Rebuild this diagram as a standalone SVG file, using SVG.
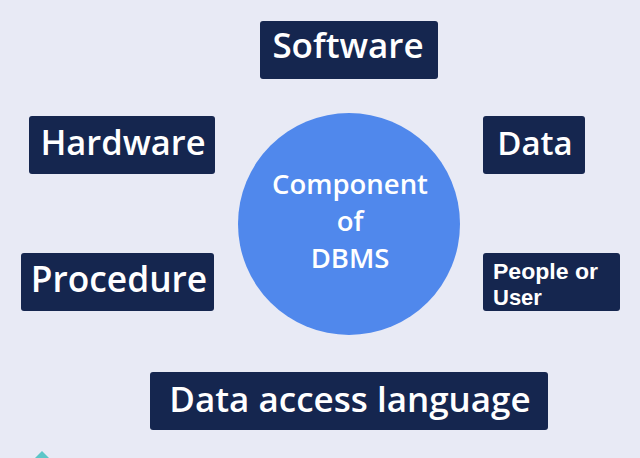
<svg xmlns="http://www.w3.org/2000/svg" width="640" height="458" viewBox="0 0 640 458">
<style>
.box{fill:#15264f}
.lbl{font-family:"Open Sans","Noto Sans",sans-serif;font-weight:600;fill:#ffffff;text-anchor:middle}
.ctr{font-family:"Open Sans","Noto Sans",sans-serif;font-weight:600;fill:#ffffff;text-anchor:middle;font-size:27.5px}
.pu{font-family:"Liberation Sans",Arial,sans-serif;font-weight:700;fill:#ffffff;font-size:22px}
</style>
<rect width="640" height="458" fill="#e8eaf5"/>
<g id="connectors"></g>
<g id="center">
<circle cx="349" cy="224" r="111" fill="#5088ec"/>
<text class="ctr" x="350" y="194">Component</text>
<text class="ctr" x="350" y="231">of</text>
<text class="ctr" x="350" y="268">DBMS</text>
</g>
<g id="software">
<rect class="box" x="260" y="21" width="178" height="58" rx="3"/>
<text class="lbl" x="348" y="58" font-size="35">Software</text>
</g>
<g id="hardware">
<rect class="box" x="29" y="116" width="186" height="58" rx="3"/>
<text class="lbl" x="123" y="155" font-size="34.5">Hardware</text>
</g>
<g id="data">
<rect class="box" x="483" y="116" width="102" height="58" rx="3"/>
<text class="lbl" x="535" y="155" font-size="33">Data</text>
</g>
<g id="procedure">
<rect class="box" x="21" y="253" width="193" height="58" rx="3"/>
<text class="lbl" x="119" y="292" font-size="35.3">Procedure</text>
</g>
<g id="people">
<rect class="box" x="483" y="253" width="137" height="58" rx="3"/>
<text class="pu" x="493" y="279" textLength="105" lengthAdjust="spacingAndGlyphs">People or</text>
<text class="pu" x="493" y="305">User</text>
</g>
<g id="dal">
<rect class="box" x="150" y="372" width="398" height="58" rx="3"/>
<text class="lbl" x="350" y="412" font-size="35">Data access language</text>
</g>
<polygon points="42,451 35,458 49,458" fill="#5cc6c8"/>
</svg>
